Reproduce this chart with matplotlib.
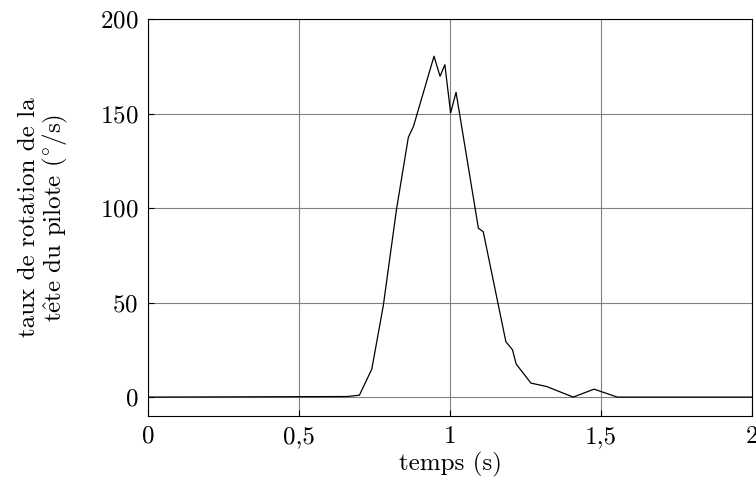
import matplotlib
matplotlib.use('Agg')
import matplotlib.pyplot as plt

plt.rcParams['font.family'] = 'serif'
plt.rcParams['font.serif'] = ['cmr10']
plt.rcParams['mathtext.fontset'] = 'cm'
plt.rcParams['axes.formatter.use_mathtext'] = True

# data
temps = [0.0, 0.658, 0.700, 0.741, 0.779, 0.823, 0.862, 0.879, 0.947, 0.967,
         0.983, 1.002, 1.020, 1.094, 1.110, 1.185, 1.207, 1.219, 1.268, 1.320,
         1.408, 1.477, 1.554, 2.0]
taux = [0.0, 0.3, 1.0, 14.8, 48.3, 99.5, 137.4, 143.2, 180.3, 169.7,
        175.8, 150.3, 161.2, 89.3, 87.5, 29.3, 25.0, 17.5, 7.4, 5.6,
        0.0, 4.2, 0.0, 0.0]

xticks = [0, 0.5, 1, 1.5, 2]
xlabels = ['0', '0,5', '1', '1,5', '2']
yticks = [0, 50, 100, 150, 200]

fig = plt.figure(figsize=(7.56, 4.78), dpi=100)
ax = fig.add_axes([0.1958, 0.1297, 0.7989, 0.8306])

ax.plot(temps, taux, color='black', linewidth=0.9)

ax.set_xlim(0, 2)
ax.set_ylim(-10, 200)
ax.set_xticks(xticks)
ax.set_xticklabels(xlabels)
ax.set_yticks(yticks)
ax.grid(True, color='#808080', linewidth=0.8)
ax.tick_params(direction='in', labelsize=18, length=4, pad=7)
for s in ax.spines.values():
    s.set_linewidth(0.8)

ax.set_xlabel('temps (s)', fontsize=18, labelpad=3)
ax.set_ylabel('taux de rotation de la\n' + r't$\hat{\mathrm{e}}$te du pilote ($^{\circ}$/s)',
              fontsize=18, linespacing=1.0)
ax.yaxis.set_label_coords(-0.13, 0.5)

fig.savefig('out.png', dpi=100)
